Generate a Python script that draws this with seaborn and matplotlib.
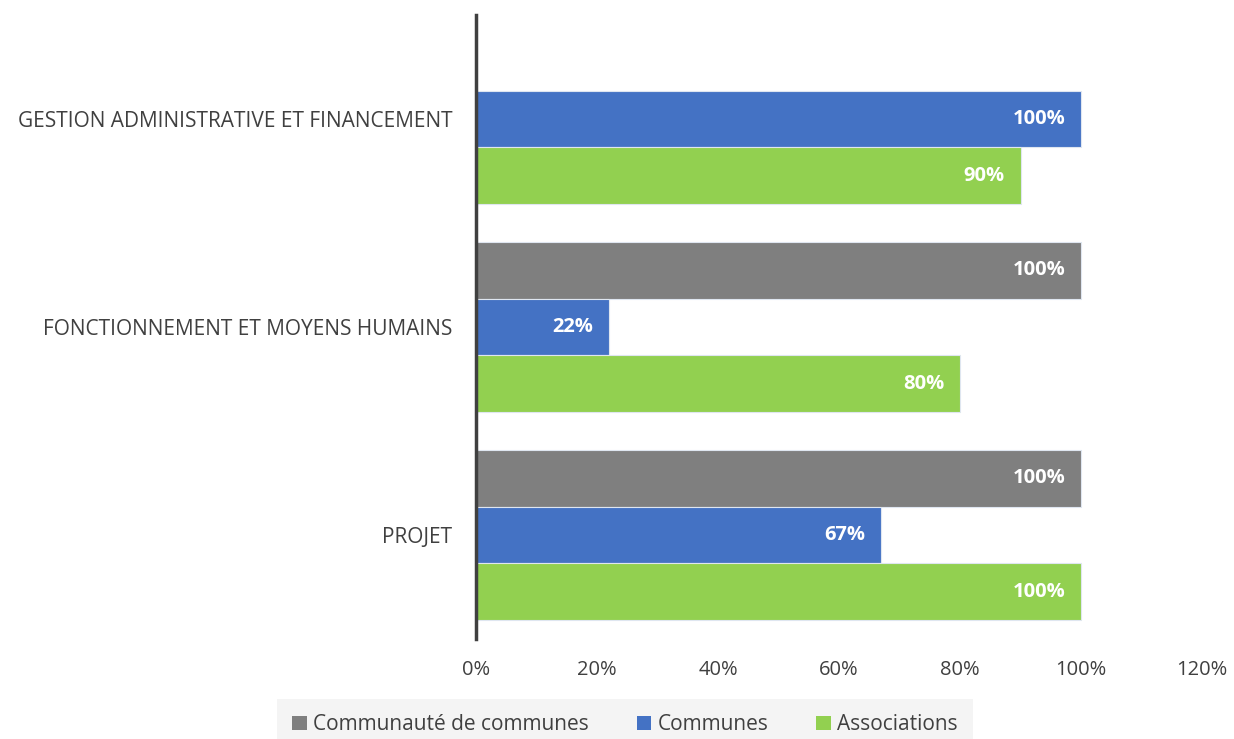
import matplotlib
matplotlib.use("Agg")
import matplotlib.pyplot as plt
import seaborn as sns
import pandas as pd
import numpy as np
from matplotlib.patches import Patch

categories = ["GESTION ADMINISTRATIVE ET FINANCEMENT", "FONCTIONNEMENT ET MOYENS HUMAINS", "PROJET"]
series = ["Communauté de communes", "Communes", "Associations"]
communaute = [np.nan, 1.00, 1.00]
communes = [1.00, 0.22, 0.67]
associations = [0.90, 0.80, 1.00]
x_ticks = [0, 0.2, 0.4, 0.6, 0.8, 1.0, 1.2]
colors = ["#7f7f7f", "#4472c4", "#92d050"]

rows = []
for s, vals in zip(series, [communaute, communes, associations]):
    for c, v in zip(categories, vals):
        if not np.isnan(v):
            rows.append({"cat": c, "serie": s, "val": v})
df = pd.DataFrame(rows)

sns.set_theme(style="white")
plt.rcParams["font.family"] = ["Open Sans", "DejaVu Sans"]

fig = plt.figure(figsize=(12.34, 7.39), dpi=100)
ax = fig.add_axes([476/1234, 1-639/739, (1202-476)/1234, (639-15)/739])

sns.barplot(data=df, x="val", y="cat", hue="serie", order=categories,
            hue_order=series, palette=colors, saturation=1, orient="h", width=0.82,
            edgecolor="#dfe6f0", linewidth=0.8, ax=ax, legend=False)

ax.set_xlim(0, 1.2)
ax.set_ylim(2.5, -0.5)
ax.set_xticks(x_ticks)
ax.set_xticklabels([f"{int(round(t*100))}%" for t in x_ticks], fontsize=14.5, color="#404040")
ax.tick_params(axis="x", length=0, pad=15)
ax.tick_params(axis="y", length=0, pad=17, labelsize=15, labelcolor="#404040")
ax.set_xlabel("")
ax.set_ylabel("")
for side in ["top", "right", "bottom"]:
    ax.spines[side].set_visible(False)
ax.spines["left"].set_color("#404040")
ax.spines["left"].set_linewidth(2.5)
ax.grid(False)

for cont in ax.containers:
    for bar in cont:
        w = bar.get_width()
        if np.isnan(w) or w <= 0:
            continue
        ax.text(w - 0.026, bar.get_y() + bar.get_height()/2, f"{w*100:.0f}%",
                ha="right", va="center", color="white", fontsize=14.5, fontweight="bold")

handles = [Patch(facecolor=c, edgecolor="none") for c in colors]
leg = fig.legend(handles, series, loc="lower center", bbox_to_anchor=(625/1234, -0.016),
                 ncol=3, frameon=True, fancybox=False, fontsize=15,
                 handlelength=0.7, handleheight=0.7, handletextpad=0.3,
                 columnspacing=2.3, borderpad=0.75, borderaxespad=0.0)
leg.get_frame().set_facecolor("#f2f2f2")
leg.get_frame().set_edgecolor("none")
for t in leg.get_texts():
    t.set_color("#404040")

fig.savefig("out.png", dpi=100)
